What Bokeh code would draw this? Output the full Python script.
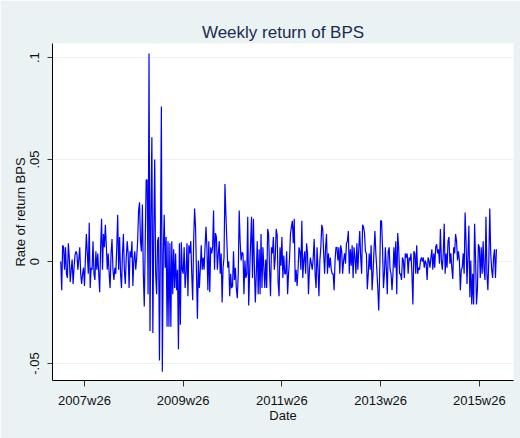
from bokeh.plotting import figure
from bokeh.models import FixedTicker, ColumnDataSource
from bokeh.embed import file_html
from bokeh.resources import INLINE

# ---- data (weekly returns, starting 2007w1) ----
start_year, start_week = 2007, 1

ret_2007 = [0.000, -0.014, 0.008, 0.007, -0.004, 0.007, -0.006, -0.008, 0.009, 0.002,
            -0.010, -0.004, 0.001, -0.011, -0.003, 0.003, 0.005, 0.004, -0.004, 0.001,
            0.007, -0.006, -0.011, -0.006, -0.003, -0.012, 0.002, 0.0135, 0.004, -0.006,
            0.019, -0.013, -0.003, -0.004, 0.010, -0.006, -0.009, 0.005, -0.004, 0.004,
            -0.006, -0.015, 0.007, 0.021, -0.004, 0.0135, 0.007, 0.018, 0.008, -0.004,
            0.004, -0.006]
ret_2008 = [-0.013, 0.004, 0.011, -0.004, -0.009, -0.003, -0.006, 0.007,
            0.023, -0.004, 0.012, -0.006, -0.013, 0.004, 0.0135, -0.004, -0.011, 0.002,
            0.010, 0.004, -0.013, 0.005, 0.002, 0.010, -0.012, 0.001, 0.005, -0.004,
            0.002, 0.010, 0.025, 0.029, 0.010, 0.005, 0.028, -0.006, -0.022, 0.010,
            0.040, 0.040, -0.016, 0.102, -0.034, 0.023, 0.061, -0.035, 0.0135, 0.050,
            -0.006, -0.016, 0.010, 0.012]
ret_2009 = [-0.0485, 0.010, 0.076, -0.054, 0.004, 0.023,
            -0.003, 0.012, -0.032, 0.010, -0.032, 0.009, -0.032, 0.010, -0.016, 0.006,
            -0.013, 0.004, -0.014, -0.004, -0.043, 0.009, -0.031, 0.0095, -0.004, -0.006,
            0.007, -0.013, -0.006, 0.009, -0.017, 0.008, 0.004, 0.010, -0.006, -0.019,
            0.010, 0.026, 0.017, -0.006, -0.028, 0.0005, -0.013, -0.004, 0.008, -0.004,
            0.002, -0.004, 0.007, 0.017, 0.007, -0.014]
ret_2010 = [0.010,
            -0.015, 0.007, 0.004, 0.007, 0.025, -0.004, 0.014, 0.012, -0.004, 0.004,
            0.010, -0.006, 0.004, -0.020, -0.003, 0.002, 0.038, 0.023, 0.010, -0.003,
            0.000, -0.017, -0.006, -0.013, -0.012, 0.005, -0.009, -0.003, -0.013, -0.018,
            -0.006, 0.025, 0.010, 0.0005, 0.0045, 0.004, -0.016, 0.0005, -0.008, -0.006,
            0.022, -0.0215, -0.006, 0.009, 0.022, -0.008, 0.021, -0.003, -0.020, -0.006, 0.010]
ret_2011 = [-0.016, 0.006, -0.016, 0.0135, -0.013, 0.007, -0.003, -0.013, 0.001, -0.013,
            0.016, 0.0135, -0.004, -0.017, 0.007, 0.004, 0.012, -0.004, 0.002, 0.016,
            0.013, -0.010, -0.017, 0.007, -0.002, 0.012, -0.008, 0.003, -0.006,
            -0.006, 0.005, -0.016, -0.006, 0.001, 0.0135, 0.017, 0.020, 0.009, 0.021,
            -0.010, -0.004, -0.012, -0.004, 0.007, 0.005, -0.004, 0.020, -0.008, 0.0005,
            0.005, -0.006, 0.009]
ret_2012 = [0.004, -0.016, -0.004, 0.002, -0.001, -0.004, 0.002, 0.011, -0.006, -0.013,
            0.007, -0.003, -0.017, 0.0005, 0.007, 0.018, 0.016, 0.004, -0.006, 0.007,
            0.0135, -0.006, 0.004, -0.003, 0.002, -0.004, -0.006, -0.006, -0.014, 0.0005,
            0.007, 0.007, 0.0005, 0.007, -0.006, 0.008, 0.005, -0.006, 0.0005, 0.004,
            -0.001, 0.009, 0.010, 0.015, -0.006, 0.006, -0.002, 0.008, -0.008, 0.007,
            0.002, -0.006]
ret_2013 = [0.009, -0.004, 0.006, 0.015,
            0.002, -0.006, 0.018, 0.017, 0.014, 0.005, 0.004, -0.0135, -0.006, 0.004,
            -0.004, 0.008, -0.014, -0.006, 0.005, 0.015, 0.004, -0.004, -0.013, -0.024,
            -0.006, 0.020, 0.020, 0.007, -0.013, -0.006, 0.007, -0.003, -0.016, 0.005,
            0.007, -0.004, -0.006, -0.014, -0.006, 0.007, -0.003, 0.010, -0.016, 0.014,
            0.007, -0.006, -0.006, -0.009, 0.002, 0.0005, -0.008, 0.004]
ret_2014 = [0.002, 0.004, -0.006, 0.002, 0.0005, 0.004, -0.006, -0.021, 0.005, 0.004,
            -0.006, 0.008, -0.006, -0.003, -0.004, 0.0005, 0.002, 0.000, 0.002, -0.003,
            0.0005, -0.001, -0.009, 0.002, 0.0005, -0.003, 0.002, 0.006, -0.004, 0.004,
            -0.003, 0.007, 0.0085, 0.004, 0.006, -0.001, 0.016, 0.0005, -0.004, 0.004,
            0.0185, -0.006, 0.004, -0.003, 0.010, 0.012, -0.001, 0.004, -0.003, -0.0085,
            0.007, 0.004]
ret_2015 = [0.0135, 0.010, 0.0005, 0.005, 0.0005, -0.014, -0.004, -0.003, 0.004, -0.006,
            0.024, 0.010, -0.011, 0.003, 0.0175, -0.0175, 0.0005, -0.021, -0.006, -0.021,
            0.0185, 0.002, -0.021, -0.0135, 0.0085, 0.007, -0.008, 0.007, -0.006, 0.010,
            -0.004, -0.009, 0.022, -0.006, -0.014, 0.0005, 0.026, 0.004, -0.004, -0.008,
            0.002, 0.006, -0.008, 0.006]

returns = (ret_2007 + ret_2008 + ret_2009 + ret_2010 + ret_2011 +
           ret_2012 + ret_2013 + ret_2014 + ret_2015)

x_tick_labels = ["2007w26", "2009w26", "2011w26", "2013w26", "2015w26"]
y_ticks = [-0.05, 0.0, 0.05, 0.1]
y_tick_labels = ["-.05", "0", ".05", ".1"]


def tw(year, week):
    # Stata %tw weekly date number
    return (year - 1960) * 52 + (week - 1)


weeks = [tw(start_year, start_week) + k for k in range(len(returns))]
x_ticks = [tw(int(s[:4]), int(s[5:])) for s in x_tick_labels]

src = ColumnDataSource(dict(week=weeks, ret=returns))

BG = "#EAF2F3"
FONT = "Liberation Sans"

p = figure(width=520, height=438,
           x_range=(2435.3, 2921.0), y_range=(-0.0583, 0.1069),
           output_backend="svg", toolbar_location=None,
           min_border_left=52, min_border_right=7,
           min_border_top=43, min_border_bottom=58,
           background_fill_color="white", border_fill_color=BG,
           outline_line_color=None)

p.line("week", "ret", source=src, line_color="#0000FF", line_width=1.2)

# title
p.title.text = "Weekly return of BPS"
p.title.align = "center"
p.title.text_font = FONT
p.title.text_font_size = "17px"
p.title.text_font_style = "normal"
p.title.text_color = "#1c2b4f"
p.title.standoff = 4

# x axis
xa = p.xaxis[0]
xa.ticker = FixedTicker(ticks=x_ticks)
xa.major_label_overrides = {t: l for t, l in zip(x_ticks, x_tick_labels)}
xa.axis_label = "Date"

# y axis
ya = p.yaxis[0]
ya.ticker = FixedTicker(ticks=y_ticks)
ya.major_label_overrides = {t: l for t, l in zip(y_ticks, y_tick_labels)}
ya.major_label_orientation = "vertical"
ya.axis_label = "Rate of return BPS"

for ax in (xa, ya):
    ax.axis_line_color = "black"
    ax.axis_line_width = 1
    ax.major_tick_line_color = "#333333"
    ax.major_tick_in = 0
    ax.minor_tick_line_color = None
    ax.major_label_text_font = FONT
    ax.major_label_text_font_size = "13px"
    ax.major_label_text_color = "#111111"
    ax.axis_label_text_font = FONT
    ax.axis_label_text_font_size = "13px"
    ax.axis_label_text_font_style = "normal"
    ax.axis_label_text_color = "#111111"

xa.major_tick_out = 6
xa.major_label_standoff = 6
xa.axis_label_standoff = -3
ya.major_tick_out = 5
ya.major_label_standoff = 8
ya.axis_label_standoff = 0

p.xgrid.visible = False
p.ygrid.grid_line_color = BG
p.ygrid.grid_line_width = 1

open("out.html", "w").write(file_html(p, INLINE))
